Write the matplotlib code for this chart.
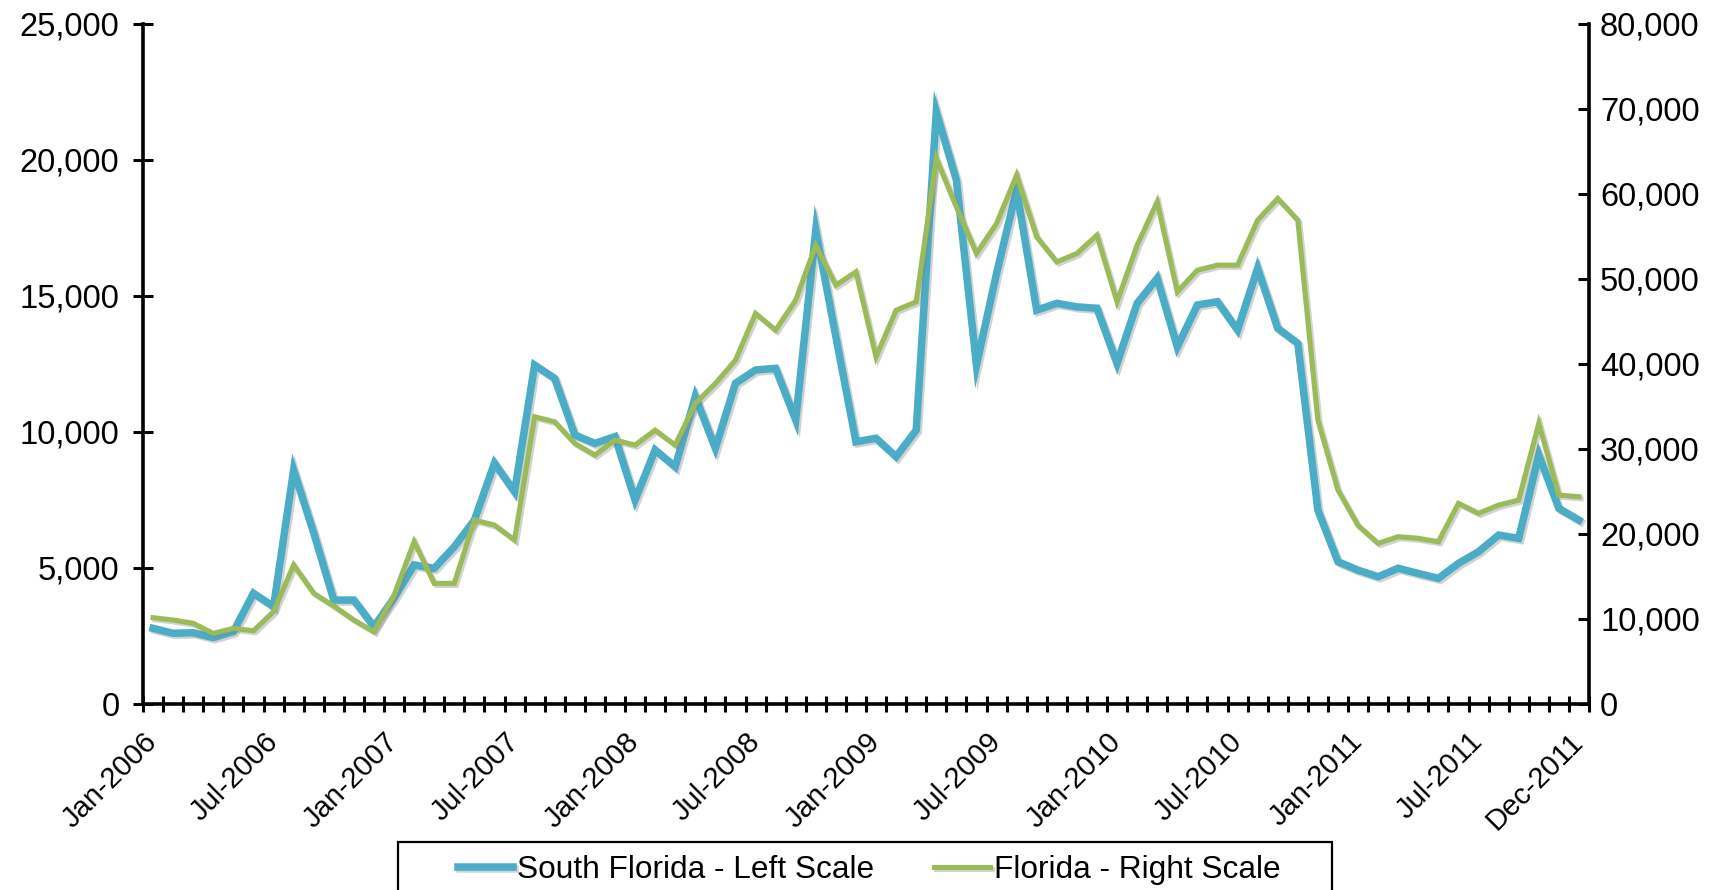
"""South Florida vs Florida monthly series, dual axis line chart."""
import matplotlib
matplotlib.use("Agg")
import matplotlib.pyplot as plt
import matplotlib.patheffects as pe
from matplotlib.patches import Rectangle
from matplotlib.ticker import FuncFormatter, MultipleLocator
import pandas as pd

plt.rcParams['font.family'] = ['Liberation Sans', 'DejaVu Sans']

# ---- data -------------------------------------------------------------
months = pd.date_range('2006-01-01', periods=72, freq='MS').strftime('%b-%Y').tolist()

south_florida = [
    2780, 2600, 2620, 2440, 2660, 4070, 3580, 8600, 6290, 3820, 3820, 2840,
    3900, 5110, 4990, 5780, 6760, 8850, 7800, 12460, 11970, 9890, 9580, 9830,
    7500, 9340, 8720, 11300, 9400, 11790, 12280, 12340, 10440, 17420, 13500, 9640,
    9770, 9090, 10070, 21770, 19260, 12460, 15830, 18900, 14480, 14730, 14600, 14550,
    12520, 14730, 15650, 13130, 14670, 14790, 13750, 16020, 13810, 13260, 7130, 5230,
    4920, 4680, 4990, 4800, 4620, 5170, 5600, 6210, 6090, 9150, 7190, 6760,
]

florida = [
    10150, 9880, 9490, 8310, 8900, 8620, 10860, 16350, 13020, 11520, 9880, 8500,
    12800, 19090, 14190, 14190, 21640, 21050, 19290, 33790, 33200, 30660, 29280, 31050,
    30460, 32220, 30460, 35360, 37710, 40450, 45950, 43980, 47510, 53980, 49270, 50840,
    40840, 46330, 47310, 64170, 58480, 53000, 56530, 62210, 54950, 52010, 53000, 55150,
    47310, 53980, 59070, 48490, 51040, 51630, 51630, 56920, 59470, 56920, 33400, 25170,
    21000, 18900, 19680, 19490, 19090, 23600, 22430, 23400, 23990, 33010, 24580, 24380,
]

tick_labels = ['Jan-2006', 'Jul-2006', 'Jan-2007', 'Jul-2007', 'Jan-2008', 'Jul-2008',
               'Jan-2009', 'Jul-2009', 'Jan-2010', 'Jul-2010', 'Jan-2011', 'Jul-2011',
               'Dec-2011']

BLUE = '#4BACC6'
GREEN = '#9BBB59'
FS_Y = 23.5
FS_X = 21
FS_LEG = 22.8

# ---- figure -------------------------------------------------------------
W, H = 1726, 890
fig = plt.figure(figsize=(W / 100, H / 100), dpi=100)
ax = fig.add_axes([143 / W, 1 - 704 / H, (1589 - 143) / W, 680 / H])
ax2 = ax.twinx()

x = list(range(len(months)))
shadow = [pe.SimpleLineShadow(offset=(1.5, -1.5), shadow_color='gray', alpha=0.35), pe.Normal()]

l1, = ax.plot(x, south_florida, color=BLUE, lw=5.4, solid_joinstyle='miter',
              path_effects=shadow, label='South Florida - Left Scale')
l2, = ax2.plot(x, florida, color=GREEN, lw=3.7, solid_joinstyle='miter',
               path_effects=shadow, label='Florida - Right Scale')

ax.set_xlim(-0.5, len(months) - 0.5)
ax.set_ylim(0, 25000)
ax2.set_ylim(0, 80000)

comma = FuncFormatter(lambda v, p: f'{v:,.0f}')
ax.yaxis.set_major_locator(MultipleLocator(5000))
ax.yaxis.set_major_formatter(comma)
ax2.yaxis.set_major_locator(MultipleLocator(10000))
ax2.yaxis.set_major_formatter(comma)

# category boundary marks crossing the axis, labels at the categories
label_pos = [months.index(t) for t in tick_labels]
ax.set_xticks(label_pos)
ax.set_xticklabels(tick_labels, rotation=45, ha='right', va='center',
                   rotation_mode='anchor', fontsize=FS_X)
ax.set_xticks([i - 0.5 for i in range(len(months) + 1)], minor=True)
ax.tick_params(axis='x', which='major', length=0, pad=24)
ax.tick_params(axis='x', which='minor', direction='inout', length=12, width=2.2)

ax.tick_params(axis='y', direction='inout', length=14, width=2.2, pad=10, labelsize=FS_Y)
ax2.tick_params(axis='y', direction='in', length=8, width=2.2, pad=8, labelsize=FS_Y)

for s in ('top', 'right'):
    ax.spines[s].set_visible(False)
for s in ('top', 'left', 'bottom'):
    ax2.spines[s].set_visible(False)
ax.spines['left'].set_linewidth(2.6)
ax.spines['bottom'].set_linewidth(2.6)
ax2.spines['right'].set_linewidth(2.6)

# legend, frame running off the bottom edge
fig.patches.append(Rectangle((398 / W, -0.05), (1332 - 398) / W, 0.05 + 1 - 842 / H,
                             transform=fig.transFigure, fill=False, ec='black', lw=1.6))
fig.legend([l1, l2], [l1.get_label(), l2.get_label()], loc='center',
           bbox_to_anchor=(869 / W, 1 - 870 / H), ncol=2, frameon=False,
           fontsize=FS_LEG, handlelength=1.75, handletextpad=0.12, columnspacing=1.9)

fig.savefig('out.png', dpi=100)
